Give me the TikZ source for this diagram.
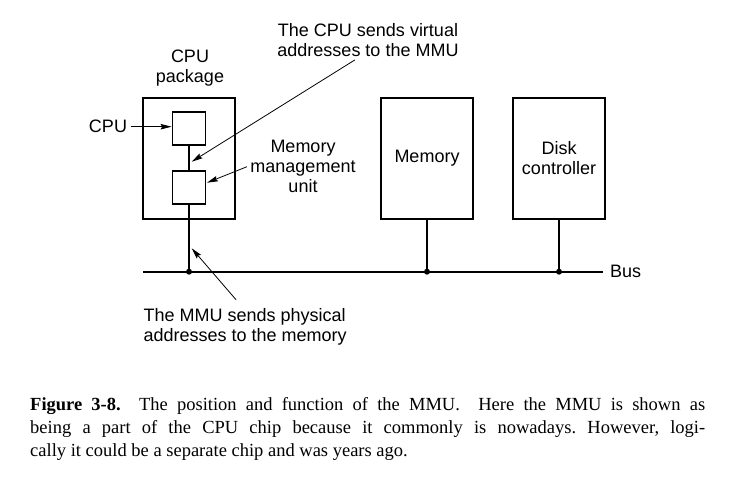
\documentclass[tikz,border=0pt]{standalone}
\usepackage{fontspec}
\setmainfont{Liberation Sans}
\newfontfamily\capfont{Liberation Serif}
\usetikzlibrary{arrows.meta}

\begin{document}
\begin{tikzpicture}[x=1pt,y=-1pt,
  bigbox/.style={draw,line width=1.8pt,minimum width=92pt,minimum height=121pt,inner sep=0pt,align=center},
  chip/.style={draw,line width=1.8pt,minimum size=33pt,inner sep=0pt},
  wire/.style={line width=1.8pt},
  ptr/.style={line width=0.8pt,-{Stealth[length=11pt,width=5.5pt,inset=1.5pt]}},
  every node/.style={font=\fontsize{18}{20}\selectfont}]
\useasboundingbox (0,0) rectangle (735,485);
% boxes of the system
\node[bigbox] (pkg) at (189,158.3) {};
\node[chip] (cpu) at (189,128.8) {};
\node[chip] (mmu) at (189,187.7) {};
\node[bigbox] (mem) at (427,158.3) {Memory};
\node[bigbox] (disk) at (559,158.3) {Disk\\controller};
% the bus
\coordinate (busL) at (143,271.7);
\coordinate (j1) at (189,271.7);
\coordinate (j2) at (427,271.7);
\coordinate (j3) at (559,271.7);
\node[anchor=west,inner xsep=7pt] (bus) at (603,271.7) {Bus};
\draw[wire] (busL) -- (bus.west);
\draw[wire] (cpu) -- (mmu);
\draw[wire] (mmu) -- (j1);
\draw[wire] (mem) -- (j2);
\draw[wire] (disk) -- (j3);
\foreach \j in {j1,j2,j3} \fill (\j) circle (3pt);
% labels and their pointers
\node[align=center] (pkgtxt) at (190,68) {CPU\\package};
\node (cputxt) at (108,126.7) {CPU};
\node[align=center] (mmutxt) at (303,166.7) {Memory\\management\\unit};
\node[align=center] (virttxt) at (368,39.7) {The CPU sends virtual\\addresses to the MMU};
\node[anchor=west,align=left] (phystxt) at (140,326.7) {The MMU sends physical\\addresses to the memory};
\coordinate (mmutip) at (207,182.7);
\coordinate (virttip) at (191.7,161.7);
\coordinate (phystip) at (191.7,248.3);
\draw[ptr] (cputxt.east) -- (cputxt.east -| cpu.west);
\draw[ptr] (mmutxt.west) -- (mmutip);
\draw[ptr] ([xshift=-13pt]virttxt.south) -- (virttip);
\draw[ptr] ([xshift=-9pt,yshift=5pt]phystxt.north) -- (phystip);
% caption
\node[anchor=north west,inner sep=0pt,text width=675pt,align=justify,font=\capfont\fontsize{18.5}{23}\selectfont\frenchspacing] (caption) at (30,397.5)
  {\textbf{Figure 3-8.}\ \ The position and function of the MMU.\ \ Here the MMU is shown as\linebreak being a part of the CPU chip because it commonly is nowadays. However, logi-\linebreak cally it could be a separate chip and was years ago.};
\end{tikzpicture}
\end{document}
